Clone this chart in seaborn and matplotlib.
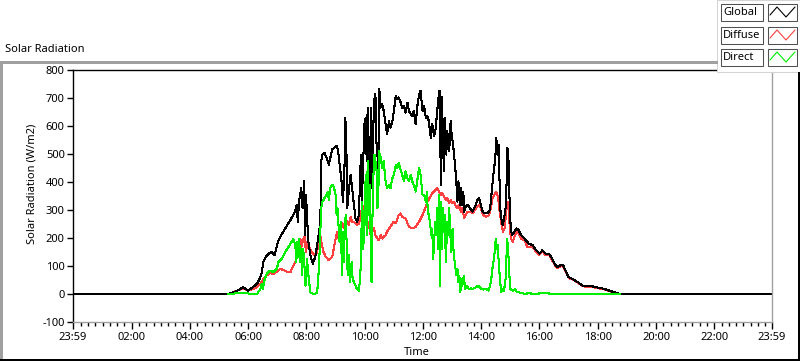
import numpy as np
import pandas as pd
import matplotlib
matplotlib.use("Agg")
import matplotlib.pyplot as plt
import seaborn as sns
from matplotlib.lines import Line2D
from matplotlib.patches import Rectangle
from matplotlib.ticker import FixedLocator

# ---------------- data (minutes since midnight, W/m2) ----------------
global_t = [-1, 319, 333, 350, 360, 371, 378, 385, 388, 391,
            396, 402, 409, 414, 421, 426, 436, 447, 456, 460,
            462, 465, 467, 469, 472, 475, 477, 479, 482, 484,
            488, 493, 498, 503, 507, 509, 510, 513, 517, 520,
            524, 526, 533, 540, 543, 546, 550, 553, 555, 558,
            560, 562, 564, 567, 571, 574, 577, 581, 584, 588,
            591, 593, 594, 597, 599, 602, 604, 606, 608, 610,
            613, 615, 619, 622, 624, 628, 630, 633, 636, 639,
            643, 646, 650, 653, 657, 660, 664, 667, 670, 674,
            677, 681, 684, 688, 691, 695, 698, 701, 705, 708,
            712, 715, 719, 722, 726, 729, 732, 736, 739, 743,
            746, 749, 752, 754, 757, 759, 761, 763, 765, 768,
            770, 774, 777, 779, 782, 786, 789, 791, 793, 796,
            798, 800, 803, 805, 808, 812, 817, 822, 825, 829,
            832, 836, 839, 843, 846, 853, 858, 861, 865, 869,
            871, 874, 876, 878, 880, 884, 887, 891, 894, 896,
            898, 900, 903, 908, 913, 917, 922, 929, 938, 946,
            953, 960, 966, 973, 980, 984, 991, 997, 1004, 1009,
            1015, 1020, 1028, 1039, 1049, 1059, 1070, 1077, 1084, 1094,
            1104, 1115, 1125, 1439]
global_v = [0, 0, 8, 24, 12, 27, 36, 60, 78, 114,
            132, 144, 150, 138, 186, 204, 234, 264, 294, 318,
            258, 336, 354, 378, 306, 402, 210, 354, 246, 186,
            138, 108, 132, 186, 234, 306, 474, 498, 504, 492,
            474, 462, 516, 528, 528, 498, 438, 390, 330, 426,
            630, 546, 306, 366, 426, 378, 330, 270, 258, 282,
            450, 498, 330, 474, 606, 630, 474, 666, 546, 330,
            666, 378, 690, 714, 546, 450, 732, 666, 678, 654,
            606, 570, 618, 594, 618, 654, 708, 696, 702, 684,
            666, 672, 648, 684, 654, 642, 636, 654, 606, 666,
            714, 726, 654, 672, 630, 636, 618, 558, 606, 564,
            588, 648, 702, 726, 390, 702, 570, 438, 630, 498,
            582, 510, 618, 570, 534, 462, 390, 330, 402, 318,
            378, 318, 366, 294, 312, 318, 306, 294, 306, 318,
            336, 342, 318, 294, 288, 288, 300, 354, 426, 486,
            558, 498, 534, 378, 282, 246, 270, 318, 522, 486,
            354, 258, 210, 222, 234, 228, 210, 198, 180, 174,
            156, 144, 156, 144, 144, 132, 108, 96, 104, 102,
            78, 60, 54, 42, 30, 27, 27, 24, 22, 18,
            12, 6, 0, 0]

diffuse_t = [319, 350, 360, 374, 385, 391, 398, 405, 412, 419,
             426, 433, 440, 447, 453, 457, 460, 464, 466, 469,
             472, 474, 476, 479, 482, 484, 490, 497, 502, 505,
             509, 512, 515, 520, 524, 526, 533, 540, 543, 546,
             550, 553, 557, 560, 564, 567, 571, 574, 577, 581,
             584, 588, 591, 595, 597, 599, 602, 605, 608, 612,
             615, 619, 622, 626, 629, 633, 636, 639, 643, 646,
             650, 653, 657, 660, 664, 670, 674, 677, 684, 691,
             698, 705, 712, 719, 726, 729, 732, 739, 746, 749,
             753, 757, 760, 763, 767, 770, 774, 777, 781, 784,
             788, 791, 794, 798, 801, 805, 808, 812, 817, 822,
             829, 832, 836, 839, 844, 850, 856, 860, 863, 869,
             871, 875, 878, 883, 885, 889, 892, 895, 898, 901,
             905, 908, 913, 917, 922, 929, 935, 946, 953, 960,
             966, 973, 980, 984, 991, 997, 1004, 1009, 1015, 1020,
             1028, 1039, 1049, 1059, 1070, 1077, 1084, 1094, 1104, 1115,
             1125]
diffuse_v = [0, 20, 12, 20, 36, 54, 66, 75, 70, 80,
             90, 85, 80, 78, 102, 114, 132, 162, 198, 162,
             198, 186, 204, 150, 186, 174, 150, 138, 150, 186,
             204, 174, 150, 132, 126, 120, 132, 198, 222, 198,
             246, 252, 234, 270, 258, 246, 276, 258, 258, 252,
             246, 252, 270, 318, 306, 282, 258, 234, 258, 210,
             222, 234, 210, 198, 192, 210, 198, 204, 210, 222,
             234, 240, 252, 258, 252, 282, 288, 276, 270, 240,
             234, 240, 258, 282, 312, 330, 338, 360, 372, 378,
             366, 354, 360, 348, 336, 342, 324, 336, 324, 330,
             312, 306, 318, 294, 306, 270, 282, 294, 294, 288,
             306, 312, 318, 306, 282, 276, 282, 306, 342, 360,
             366, 342, 294, 234, 222, 240, 324, 330, 258, 198,
             186, 204, 222, 216, 198, 192, 168, 168, 150, 140,
             152, 138, 140, 128, 104, 93, 100, 98, 75, 57,
             52, 40, 28, 25, 25, 22, 20, 16, 10, 5,
             0]

direct_t = [319, 347, 356, 364, 378, 385, 388, 390, 394, 398,
            405, 412, 419, 422, 429, 436, 443, 449, 453, 457,
            459, 461, 463, 465, 467, 469, 471, 473, 475, 478,
            481, 484, 488, 495, 502, 505, 508, 510, 513, 519,
            524, 526, 529, 533, 536, 540, 542, 544, 546, 548,
            551, 553, 555, 557, 559, 561, 563, 565, 567, 570,
            573, 575, 578, 581, 584, 588, 591, 593, 595, 597,
            600, 602, 604, 606, 608, 610, 612, 614, 616, 618,
            620, 622, 624, 626, 628, 629, 633, 636, 639, 643,
            646, 650, 653, 657, 660, 664, 667, 670, 674, 677,
            681, 684, 688, 691, 695, 698, 701, 705, 708, 712,
            715, 719, 722, 726, 728, 730, 732, 735, 737, 739,
            741, 743, 745, 747, 749, 751, 753, 755, 757, 759,
            761, 763, 765, 767, 770, 772, 774, 776, 778, 781,
            783, 786, 789, 791, 793, 795, 797, 799, 801, 804,
            807, 810, 814, 819, 823, 829, 834, 839, 844, 850,
            855, 860, 863, 867, 870, 872, 874, 876, 878, 881,
            884, 887, 891, 893, 895, 898, 900, 905, 910, 913,
            922, 931, 939, 945, 976, 982, 1125]
direct_v = [0, 4, 4, 0, 0, 18, 36, 18, 54, 72,
            84, 78, 90, 114, 126, 150, 168, 186, 196, 174,
            114, 186, 132, 198, 114, 162, 66, 162, 126, 30,
            126, 66, 6, 0, 4, 78, 186, 306, 330, 348,
            366, 336, 378, 390, 384, 354, 282, 306, 246, 186,
            258, 66, 222, 114, 246, 282, 162, 66, 138, 42,
            114, 54, 42, 30, 18, 12, 66, 210, 330, 162,
            306, 426, 210, 474, 282, 390, 210, 42, 282, 426,
            498, 474, 462, 306, 330, 510, 486, 450, 474, 402,
            378, 390, 378, 414, 426, 462, 450, 468, 444, 426,
            402, 438, 414, 402, 426, 402, 390, 366, 402, 450,
            426, 354, 354, 330, 366, 294, 282, 246, 210, 234,
            126, 186, 258, 210, 306, 162, 354, 30, 330, 162,
            306, 222, 282, 114, 258, 210, 306, 234, 150, 234,
            150, 102, 66, 90, 42, 66, 6, 54, 30, 66,
            18, 30, 18, 20, 18, 24, 30, 20, 16, 18,
            12, 42, 90, 138, 198, 162, 174, 114, 66, 6,
            18, 12, 66, 198, 174, 66, 18, 12, 18, 8,
            4, 0, 4, 0, 4, 0, 0]

series_names = ["Global", "Diffuse", "Direct"]
series_colors = {"Global": "#000000", "Diffuse": "#ff4040", "Direct": "#00ee00"}

x_tick_pos = [-1, 120, 240, 360, 480, 600, 720, 840, 960, 1080, 1200, 1320, 1439]
x_tick_labels = ["23:59", "02:00", "04:00", "06:00", "08:00", "10:00", "12:00",
                 "14:00", "16:00", "18:00", "20:00", "22:00", "23:59"]
y_ticks = [-100, 0, 100, 200, 300, 400, 500, 600, 700, 800]

# ---------------- styling ----------------
sns.set_theme(style="white")
plt.rcParams["font.family"] = ["Noto Sans", "DejaVu Sans"]
FS = 8

W, H = 800, 361
fig = plt.figure(figsize=(W / 100, H / 100), dpi=100)
fig.patch.set_facecolor("white")


def fx(px):
    return px / W


def fy(py):
    return 1 - py / H


ax = fig.add_axes([fx(73), fy(322), (772 - 73) / W, (322 - 70) / H])
ax.set_facecolor("white")

df = pd.concat([
    pd.DataFrame({"t": global_t, "v": global_v, "s": "Global"}),
    pd.DataFrame({"t": diffuse_t, "v": diffuse_v, "s": "Diffuse"}),
    pd.DataFrame({"t": direct_t, "v": direct_v, "s": "Direct"}),
], ignore_index=True)

sns.lineplot(data=df, x="t", y="v", hue="s",
             hue_order=["Diffuse", "Global", "Direct"],
             palette=series_colors, estimator=None, sort=False,
             legend=False, linewidth=0.75, ax=ax, antialiased=False)

ax.set_xlim(-1, 1439)
ax.set_ylim(-100, 800)
ax.set_xticks(x_tick_pos)
ax.set_xticklabels(x_tick_labels, fontsize=FS)
minor = [m for m in range(15, 1439, 15) if m % 120 != 0]
ax.xaxis.set_minor_locator(FixedLocator(minor))
ax.set_yticks(y_ticks)
ax.set_yticklabels([str(v) for v in y_ticks], fontsize=FS)
ax.tick_params(axis="both", which="both", direction="out", color="black",
               width=1, bottom=True, left=True, labelcolor="black")
ax.tick_params(axis="x", which="major", length=5, pad=2)
ax.tick_params(axis="x", which="minor", length=3)
ax.tick_params(axis="y", which="major", length=4, pad=2)

for side in ["top", "left"]:
    ax.spines[side].set_color("black")
    ax.spines[side].set_linewidth(1.0)
for side in ["right", "bottom"]:
    ax.spines[side].set_color("#a0a0a0")
    ax.spines[side].set_linewidth(1.0)
ax.grid(False)

ax.set_ylabel("Solar Radiation (W/m2)", fontsize=FS, color="black")
ax.yaxis.set_label_coords((38 - 73) / 699, (322 - 184) / 252)
ax.set_xlabel("Time", fontsize=FS, color="black")
ax.xaxis.set_label_coords((417 - 73) / 699, (322 - 347) / 252)

# ---------------- frame decorations ----------------
def hline(x0, x1, y, color):
    fig.add_artist(Line2D([fx(x0), fx(x1)], [fy(y), fy(y)], color=color,
                          lw=0.75, transform=fig.transFigure, antialiased=False))


def vline(x, y0, y1, color):
    fig.add_artist(Line2D([fx(x), fx(x)], [fy(y0), fy(y1)], color=color,
                          lw=0.75, transform=fig.transFigure, antialiased=False))


hline(0, 717, 61.5, "#a0a0a0")
vline(0.5, 61.5, 361, "#a0a0a0")
hline(0, 800, 359.5, "#000000")
vline(798.5, 72, 360, "#000000")

fig.text(fx(5), fy(50), "Solar Radiation", fontsize=FS, color="black",
         ha="left", va="center")

# legend panel
fig.add_artist(Rectangle((fx(716.5), fy(71.5)), (800 - 716.5) / W, 71.5 / H,
                         transform=fig.transFigure, facecolor="white",
                         edgecolor="#d4d4d4", lw=0.75))
row_tops = [4, 27, 49]
for name, top in zip(series_names, row_tops):
    fig.add_artist(Rectangle((fx(721), fy(top + 17)), 42 / W, 17 / H,
                             transform=fig.transFigure, facecolor="white",
                             edgecolor="#505050", lw=0.75))
    fig.text(fx(723), fy(top + 8.5), name, fontsize=FS, color="black",
             ha="left", va="center")
    fig.add_artist(Rectangle((fx(768), fy(top + 17)), 29 / W, 17 / H,
                             transform=fig.transFigure, facecolor="white",
                             edgecolor="#505050", lw=0.75))
    zx = [770, 777, 786, 795]
    zy = [top + 11, top + 3, top + 13, top + 3]
    fig.add_artist(Line2D([fx(v) for v in zx], [fy(v) for v in zy],
                          color=series_colors[name], lw=0.8,
                          transform=fig.transFigure))

fig.savefig("out.png", dpi=100, facecolor="white")
